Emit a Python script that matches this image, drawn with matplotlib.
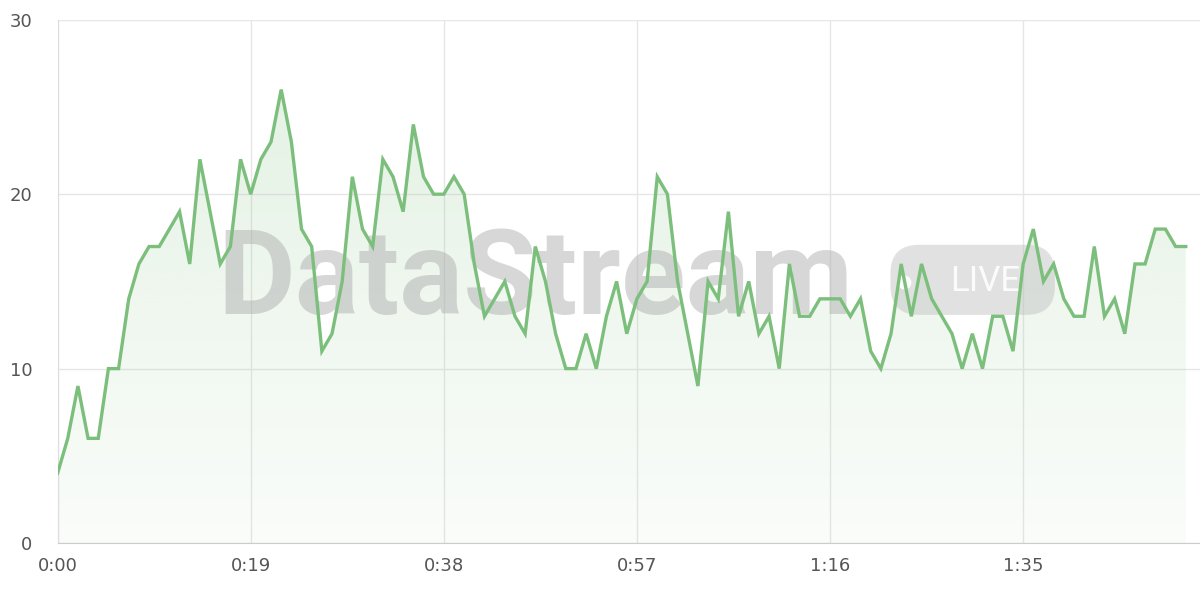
import numpy as np
import matplotlib.pyplot as plt
from matplotlib.patches import FancyBboxPatch, Polygon

# 1秒ごとの値
values = [4, 6, 9, 6, 6, 10, 10, 14, 16, 17, 17, 18, 19, 16, 22, 19, 16, 17, 22, 20,
          22, 23, 26, 23, 18, 17, 11, 12, 15, 21, 18, 17, 22, 21, 19, 24, 21, 20, 20, 21,
          20, 16, 13, 14, 15, 13, 12, 17, 15, 12, 10, 10, 12, 10, 13, 15, 12, 14, 15, 21,
          20, 15, 12, 9, 15, 14, 19, 13, 15, 12, 13, 10, 16, 13, 13, 14, 14, 14, 13, 14,
          11, 10, 12, 16, 13, 16, 14, 13, 12, 10, 12, 10, 13, 13, 11, 16, 18, 15, 16, 14,
          13, 13, 17, 13, 14, 12, 16, 16, 18, 18, 17, 17]
seconds = np.arange(len(values))
tick_seconds = [0, 19, 38, 57, 76, 95]
tick_labels = ["%d:%02d" % (s // 60, s % 60) for s in tick_seconds]
y_ticks = [0, 10, 20, 30]

line_color = "#7cbf7c"

fig = plt.figure(figsize=(12, 6), dpi=100)
ax = fig.add_axes([0.048, 0.095, 0.952, 0.872])
ax.set_xlim(0, 112.4)
ax.set_ylim(0, 30)

# グラデーション塗り
grad = np.linspace(0.22, 0.04, 256).reshape(-1, 1)
rgba = np.zeros((256, 1, 4))
rgba[..., 0] = 0x7c / 255
rgba[..., 1] = 0xbf / 255
rgba[..., 2] = 0x7c / 255
rgba[..., 3] = grad
img = ax.imshow(rgba, extent=[0, 112.4, 0, 30], aspect="auto", origin="upper", zorder=1)
verts = [(0, 0)] + list(zip(seconds, values)) + [(seconds[-1], 0)]
poly = Polygon(verts, closed=True, transform=ax.transData, facecolor="none", edgecolor="none")
ax.add_patch(poly)
img.set_clip_path(poly)

ax.plot(seconds, values, color=line_color, lw=2.4, zorder=4, solid_joinstyle="miter")

# ウォーターマーク
ax.text(0.418, 0.50, "DataStream", transform=ax.transAxes, ha="center", va="center",
        fontsize=86, fontweight="bold", family="Roboto", color="#b0b0b0", alpha=0.5, zorder=3)
badge = FancyBboxPatch((0.729, 0.436), 0.144, 0.134, boxstyle="round,pad=0,rounding_size=0.025",
                       transform=ax.transAxes, facecolor="#c4c4c4", alpha=0.5,
                       edgecolor="none", zorder=3, mutation_aspect=2.2)
ax.add_patch(badge)
ax.text(0.812, 0.50, "LIVE", transform=ax.transAxes, ha="center", va="center",
        fontsize=25, family="Roboto", color="white", alpha=0.9, zorder=3.5)
ax.plot([0.741], [0.499], "o", transform=ax.transAxes, color="white", alpha=0.9,
        markersize=9, zorder=3.5, clip_on=False)

ax.set_xticks(tick_seconds)
ax.set_xticklabels(tick_labels)
ax.set_yticks(y_ticks)
ax.grid(True, color="#e6e6e6", lw=1, zorder=0)
ax.set_axisbelow(True)
for side in ["top", "right"]:
    ax.spines[side].set_visible(False)
ax.spines["left"].set_color("#dddddd")
ax.spines["bottom"].set_color("#cccccc")
ax.tick_params(axis="both", length=0, labelsize=13, colors="#555555", pad=10)
ax.tick_params(axis="y", pad=18)

fig.savefig("out.png", dpi=100)
